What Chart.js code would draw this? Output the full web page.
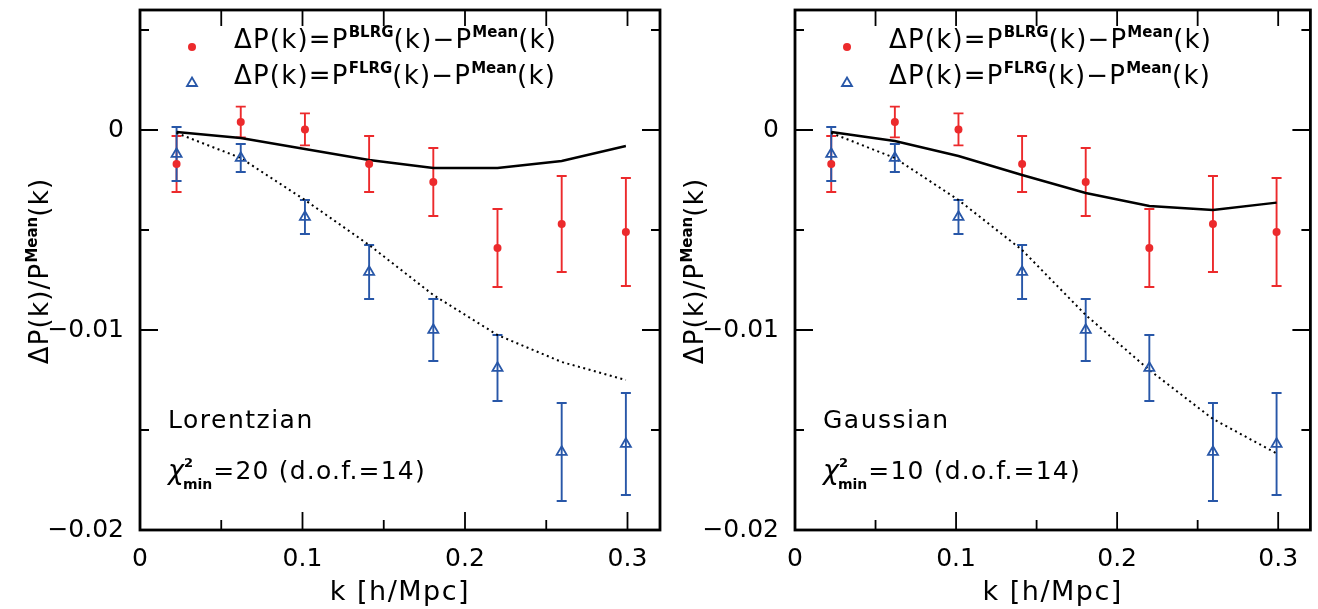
<!DOCTYPE html>
<html lang="en">
<head>
<meta charset="UTF-8">
<title>Delta P(k) / P Mean(k) - Lorentzian and Gaussian</title>
<script src="https://cdn.jsdelivr.net/npm/chart.js"></script>
<style>
    body {
        margin: 0;
        padding: 0;
        background: #fff;
        width: 1318px;
        height: 609px;
        overflow: hidden;
        position: relative;
    }
    .panel {
        position: absolute;
        top: 0;
        height: 609px;
    }
    #leftPanel { left: 0; width: 680px; }
    #rightPanel { left: 655px; width: 663px; }
</style>
</head>
<body>
<div class="panel" id="leftPanel"><canvas id="lorentzChart"></canvas></div>
<div class="panel" id="rightPanel"><canvas id="gaussChart"></canvas></div>
<script>
// k values of the measured bins [h/Mpc]
const kValues = [0.0225, 0.062, 0.1015, 0.141, 0.1805, 0.22, 0.2595, 0.299];

// Delta P / P_mean for the bright LRG sample, with 1-sigma errors
const blrgValues = [-0.0017, 0.0004, 0.00003, -0.0017, -0.0026, -0.0059, -0.0047, -0.0051];
const blrgErrors = [0.0014, 0.00077, 0.0008, 0.0014, 0.0017, 0.00195, 0.0024, 0.0027];

// Delta P / P_mean for the faint LRG sample
const flrgValues = [-0.0012, -0.0014, -0.00435, -0.0071, -0.0100, -0.0119, -0.0161, -0.0157];
const flrgErrors = [0.00135, 0.0007, 0.00085, 0.00135, 0.00155, 0.00165, 0.00245, 0.00255];

// best-fit model curves (solid = BLRG, dotted = FLRG)
const lorentzBlrgModel = [-0.0001, -0.0004, -0.00095, -0.0015, -0.0019, -0.0019, -0.00155, -0.0008];
const lorentzFlrgModel = [-0.00015, -0.0014, -0.0035, -0.00575, -0.00825, -0.01025, -0.0116, -0.0125];
const gaussBlrgModel = [-0.0001, -0.00055, -0.0013, -0.00225, -0.00315, -0.0038, -0.0040, -0.00363];
const gaussFlrgModel = [-0.00015, -0.0014, -0.0035, -0.006, -0.00925, -0.012, -0.01445, -0.01617];

// tick labels
const xTickLabels = { 0: '0', 1: '0.1', 2: '0.2', 3: '0.3' };
const yTickLabels = { 0: '0', '-1': '\u22120.01', '-2': '\u22120.02' };

const RED = '#ec2a2c';
const BLUE = '#2857a8';
const FONT = '"DejaVu Sans", sans-serif';

function toPoints(values) {
    return kValues.map((k, i) => ({ x: k, y: values[i] }));
}

// vertical error bars with caps, drawn through the chart scales
const errorBarPlugin = {
    id: 'errorBars',
    beforeDatasetsDraw(chart) {
        const ctx = chart.ctx;
        const yScale = chart.scales.y;
        chart.data.datasets.forEach((ds, i) => {
            if (!ds.errorBars) return;
            const meta = chart.getDatasetMeta(i);
            ctx.save();
            ctx.strokeStyle = ds.borderColor;
            ctx.lineWidth = 1.9;
            meta.data.forEach((pt, j) => {
                const v = ds.data[j].y;
                const e = ds.errorBars[j];
                const yTop = yScale.getPixelForValue(v + e);
                const yBot = yScale.getPixelForValue(v - e);
                ctx.beginPath();
                ctx.moveTo(pt.x, yTop);
                ctx.lineTo(pt.x, yBot);
                ctx.moveTo(pt.x - 5, yTop);
                ctx.lineTo(pt.x + 5, yTop);
                ctx.moveTo(pt.x - 5, yBot);
                ctx.lineTo(pt.x + 5, yBot);
                ctx.stroke();
            });
            ctx.restore();
        });
    }
};

// box frame with inward ticks on all four sides
const frameTicksPlugin = {
    id: 'frameTicks',
    afterDraw(chart) {
        const ctx = chart.ctx;
        const { left, right, top, bottom } = chart.chartArea;
        const xs = chart.scales.x;
        const ys = chart.scales.y;
        ctx.save();
        ctx.strokeStyle = '#000';
        ctx.lineWidth = 1.8;
        ctx.beginPath();
        xs.ticks.forEach(t => {
            const n = Math.round(t.value / 0.05);
            if (Math.abs(t.value - n * 0.05) > 1e-9) return;
            const px = xs.getPixelForValue(t.value);
            if (px <= left + 1 || px >= right - 1) return;
            const len = n % 2 === 0 ? 18 : 10;
            ctx.moveTo(px, bottom);
            ctx.lineTo(px, bottom - len);
            ctx.moveTo(px, top);
            ctx.lineTo(px, top + 16);
        });
        ys.ticks.forEach(t => {
            const n = Math.round(t.value / 0.005);
            if (Math.abs(t.value - n * 0.005) > 1e-9) return;
            const py = ys.getPixelForValue(t.value);
            if (py <= top + 1 || py >= bottom - 1) return;
            const len = n % 2 === 0 ? 18 : 9;
            ctx.moveTo(left, py);
            ctx.lineTo(left + len, py);
            ctx.moveTo(right, py);
            ctx.lineTo(right - len, py);
        });
        ctx.stroke();
        ctx.lineWidth = 2.8;
        ctx.strokeRect(left, top, right - left, bottom - top);
        ctx.restore();
    }
};

// draws a run of text pieces, some raised or lowered
function drawRich(ctx, x, y, parts, spacing) {
    let cx = x;
    parts.forEach(p => {
        ctx.font = p.font;
        ctx.letterSpacing = (p.spacing !== undefined ? p.spacing : spacing) + 'px';
        ctx.fillText(p.text, cx, y + (p.dy || 0));
        cx += ctx.measureText(p.text).width;
    });
    return cx - x;
}

function richWidth(ctx, parts, spacing) {
    let w = 0;
    parts.forEach(p => {
        ctx.font = p.font;
        ctx.letterSpacing = (p.spacing !== undefined ? p.spacing : spacing) + 'px';
        w += ctx.measureText(p.text).width;
    });
    return w;
}

const mainFont = '26px ' + FONT;
const supFont = 'bold 15px ' + FONT;

function legendParts(sample) {
    return [
        { text: '\u0394P(k)=P', font: mainFont },
        { text: sample, font: supFont, dy: -11, spacing: 0 },
        { text: '(k)\u2212P', font: mainFont },
        { text: 'Mean', font: supFont, dy: -11, spacing: 0 },
        { text: '(k)', font: mainFont }
    ];
}

const panelTextPlugin = {
    id: 'panelText',
    afterDraw(chart, args, opts) {
        const ctx = chart.ctx;
        const left = chart.chartArea.left;
        ctx.save();
        ctx.fillStyle = '#000';
        ctx.textBaseline = 'alphabetic';
        ctx.textAlign = 'left';

        // legend
        ctx.fillStyle = RED;
        ctx.beginPath();
        ctx.arc(left + 52, 47, 4, 0, Math.PI * 2);
        ctx.fill();
        ctx.strokeStyle = BLUE;
        ctx.lineWidth = 1.8;
        ctx.beginPath();
        ctx.moveTo(left + 52, 77.5);
        ctx.lineTo(left + 57, 86);
        ctx.lineTo(left + 47, 86);
        ctx.closePath();
        ctx.stroke();
        ctx.fillStyle = '#000';
        drawRich(ctx, left + 94, 48, legendParts('BLRG'), 1.2);
        drawRich(ctx, left + 94, 84, legendParts('FLRG'), 1.2);

        // model name and chi-square
        drawRich(ctx, left + 28, 428, [{ text: opts.model, font: '25px ' + FONT }], 1.5);
        drawRich(ctx, left + 28, 479, [
            { text: '\u03c7', font: 'italic 27px ' + FONT },
            { text: '2', font: 'bold 13px ' + FONT, dy: -12, spacing: 0 }
        ], 0);
        const chiW = richWidth(ctx, [{ text: '\u03c7', font: 'italic 27px ' + FONT }], 0);
        ctx.font = 'bold 14px ' + FONT;
        ctx.letterSpacing = '0px';
        ctx.fillText('min', left + 28 + chiW - 1, 489);
        const minW = ctx.measureText('min').width;
        drawRich(ctx, left + 28 + chiW + minW, 479, [
            { text: '=' + opts.chi + ' (d.o.f.=14)', font: '25px ' + FONT }
        ], 1.2);

        // y axis title, rotated
        const yParts = [
            { text: '\u0394P(k)/P', font: mainFont },
            { text: 'Mean', font: supFont, dy: -11, spacing: 0 },
            { text: '(k)', font: mainFont }
        ];
        const w = richWidth(ctx, yParts, 1.2);
        ctx.translate(48, 271);
        ctx.rotate(-Math.PI / 2);
        drawRich(ctx, -w / 2, 0, yParts, 1.2);
        ctx.setTransform(1, 0, 0, 1, 0, 0);

        // x axis title
        const xParts = [{ text: 'k [h/Mpc]', font: '27px ' + FONT }];
        const xw = richWidth(ctx, xParts, 1.5);
        const cx = (chart.chartArea.left + chart.chartArea.right) / 2;
        drawRich(ctx, cx - xw / 2, 600, xParts, 1.5);
        ctx.restore();
    }
};

function makeChart(canvasId, blrgModel, flrgModel, rightPad, model, chi) {
    const ctx = document.getElementById(canvasId).getContext('2d');
    return new Chart(ctx, {
        type: 'scatter',
        data: {
            datasets: [
                {
                    label: 'BLRG',
                    data: toPoints(blrgValues),
                    errorBars: blrgErrors,
                    pointStyle: 'circle',
                    pointRadius: 4,
                    backgroundColor: RED,
                    borderColor: RED,
                    borderWidth: 0
                },
                {
                    label: 'FLRG',
                    data: toPoints(flrgValues),
                    errorBars: flrgErrors,
                    pointStyle: 'triangle',
                    pointRadius: 5.8,
                    backgroundColor: 'rgba(0,0,0,0)',
                    borderColor: BLUE,
                    borderWidth: 1.8
                },
                {
                    label: 'BLRG model',
                    data: toPoints(blrgModel),
                    showLine: true,
                    pointRadius: 0,
                    borderColor: '#000',
                    borderWidth: 2.4,
                    tension: 0
                },
                {
                    label: 'FLRG model',
                    data: toPoints(flrgModel),
                    showLine: true,
                    pointRadius: 0,
                    borderColor: '#000',
                    borderWidth: 2,
                    borderDash: [2, 3.5],
                    tension: 0
                }
            ]
        },
        options: {
            responsive: true,
            maintainAspectRatio: false,
            animation: false,
            events: [],
            layout: { padding: { left: 0, right: rightPad, top: 10, bottom: 0 } },
            plugins: {
                legend: { display: false },
                tooltip: { enabled: false },
                panelText: { model: model, chi: chi }
            },
            scales: {
                x: {
                    type: 'linear',
                    min: 0,
                    max: 0.32,
                    afterFit(scale) {
                        scale.height = 79;
                        scale.paddingLeft = 0;
                        scale.paddingRight = 0;
                    },
                    grid: { display: false, drawTicks: false },
                    border: { display: false },
                    ticks: {
                        stepSize: 0.05,
                        includeBounds: false,
                        autoSkip: false,
                        maxRotation: 0,
                        padding: 14,
                        color: '#000',
                        font: { family: FONT, size: 25 },
                        callback(v) {
                            const n = Math.round(v * 10);
                            return Math.abs(v * 10 - n) < 1e-6 && xTickLabels[n] !== undefined ? xTickLabels[n] : '';
                        }
                    }
                },
                y: {
                    type: 'linear',
                    min: -0.02,
                    max: 0.006,
                    afterFit(scale) {
                        scale.width = 140;
                        scale.paddingTop = 0;
                        scale.paddingBottom = 0;
                    },
                    grid: { display: false, drawTicks: false },
                    border: { display: false },
                    ticks: {
                        stepSize: 0.005,
                        includeBounds: false,
                        autoSkip: false,
                        padding: 16,
                        color: '#000',
                        font: { family: FONT, size: 25 },
                        callback(v) {
                            const n = Math.round(v * 100);
                            return Math.abs(v * 100 - n) < 1e-6 && yTickLabels[n] !== undefined ? yTickLabels[n] : '';
                        }
                    }
                }
            }
        },
        plugins: [errorBarPlugin, frameTicksPlugin, panelTextPlugin]
    });
}

makeChart('lorentzChart', lorentzBlrgModel, lorentzFlrgModel, 20, 'Lorentzian', '20');
makeChart('gaussChart', gaussBlrgModel, gaussFlrgModel, 4, 'Gaussian', '10');
</script>
</body>
</html>
